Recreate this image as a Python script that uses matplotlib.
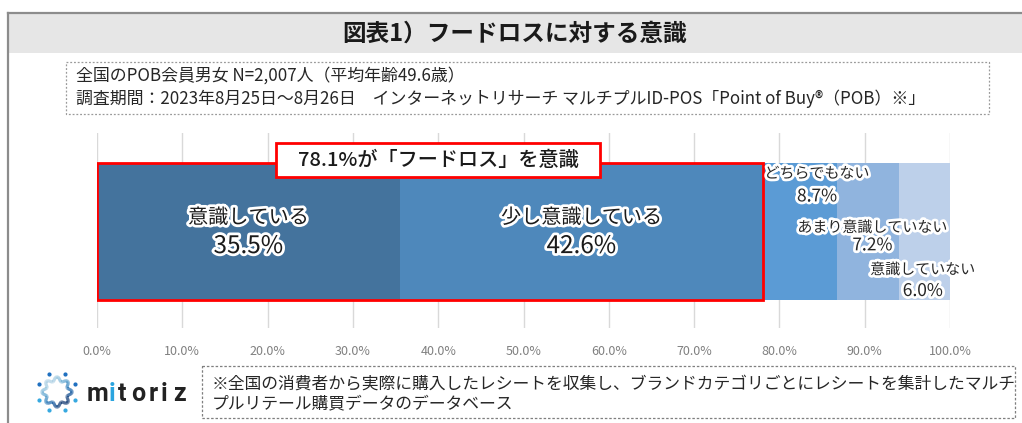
import numpy as np
import matplotlib
matplotlib.use("Agg")
import matplotlib.pyplot as plt
import matplotlib.patheffects as pe
from matplotlib.patches import Rectangle
from matplotlib.collections import LineCollection

plt.rcParams["font.family"] = ["Noto Sans CJK JP", "DejaVu Sans"]

# データ
categories = ["意識している", "少し意識している", "どちらでもない", "あまり意識していない", "意識していない"]
values = [35.5, 42.6, 8.7, 7.2, 6.0]
colors = ["#44739d", "#4e88bb", "#5b9bd5", "#90b4de", "#bdd0ea"]
ticks = [0, 10, 20, 30, 40, 50, 60, 70, 80, 90, 100]

title = "図表1）フードロスに対する意識"
note_lines = ["全国のPOB会員男女 N=2,007人（平均年齢49.6歳）",
              "調査期間：2023年8月25日～8月26日　インターネットリサーチ マルチプルID-POS「Point of Buy®（POB）※」"]
foot_lines = ["※全国の消費者から実際に購入したレシートを収集し、ブランドカテゴリごとにレシートを集計したマルチ",
              "プルリテール購買データのデータベース"]

W, H = 1022, 423
fig = plt.figure(figsize=(W / 100, H / 100), dpi=100)

# 背景・枠（ピクセル座標）
bg = fig.add_axes([0, 0, 1, 1])
bg.set_xlim(0, W)
bg.set_ylim(H, 0)
bg.axis("off")
bg.add_patch(Rectangle((8, 13), 1100, 40, facecolor="#e6e6e6", edgecolor="none"))
bg.plot([8, W], [13, 13], color="#8c8c8c", lw=1.6)
bg.plot([8, 8], [13, H], color="#8c8c8c", lw=1.6)
bg.text(515, 34, title, ha="center", va="center", fontsize=17, fontweight="bold", color="#1a1a1a")

bg.add_patch(Rectangle((66, 62), 923, 52, fill=False, edgecolor="#9a9a9a", lw=0.9, ls=(0, (1.5, 1.5))))
bg.text(76, 76, note_lines[0], ha="left", va="center", fontsize=12.2, color="#262626")
bg.text(76, 99, note_lines[1], ha="left", va="center", fontsize=12.2, color="#262626")

bg.add_patch(Rectangle((202, 366), 813, 52, fill=False, edgecolor="#7f7f7f", lw=0.9, ls=(0, (2, 1.5))))
bg.text(212, 384, foot_lines[0], ha="left", va="center", fontsize=12.1, color="#262626")
bg.text(212, 404, foot_lines[1], ha="left", va="center", fontsize=12.1, color="#262626")

# ロゴ
cx, cy = 57, 392
th = np.linspace(0, 2 * np.pi, 400)
r = 13 + 2.2 * np.cos(8 * th)
px, py = cx + r * np.cos(th), cy + r * np.sin(th)
pts = np.array([px, py]).T.reshape(-1, 1, 2)
segs = np.concatenate([pts[:-1], pts[1:]], axis=1)
lc = LineCollection(segs, cmap="Blues", norm=plt.Normalize(-2.0, 1), lw=2.2)
lc.set_array(np.sin(th + 0.6))
bg.add_collection(lc)
for a in np.arange(8) * np.pi / 4 + np.pi / 8:
    bg.plot(cx + 20 * np.cos(a), cy + 20 * np.sin(a), "o", ms=2.0,
            color="#1e6fc0" if np.sin(a) < 0 else "#35a8e0")
for ch, x, c in zip("mitoriz", [98, 112, 122, 138, 153, 164, 180],
                    ["#222222", "#2aa4df", "#222222", "#222222", "#222222", "#222222", "#222222"]):
    bg.text(x, 394, ch, ha="center", va="center", fontsize=18, fontweight="bold",
            family=["Roboto", "DejaVu Sans"], color=c)

# グラフ本体
ax = fig.add_axes([97 / W, 1 - 328 / H, 853 / W, 195 / H])
ax.set_xlim(0, 100)
ax.set_ylim(0, 1)
for t in ticks:
    ax.axvline(t, color="#d9d9d9", lw=1, zorder=0)

left = 0
lefts = []
for v, c in zip(values, colors):
    ax.barh(0.495, v, left=left, height=0.70, color=c, zorder=2)
    lefts.append(left)
    left += v

aware = values[0] + values[1]
ax.add_patch(Rectangle((0, 0.495 - 0.35), aware, 0.70, fill=False, edgecolor="#ff0000", lw=2, zorder=3))
ax.add_patch(Rectangle((21.0, 0.774), 38.0, 0.175, facecolor="white", edgecolor="#ff0000", lw=2,
                       zorder=4, clip_on=False))
ax.text(40.0, 0.862, f"{aware:.1f}%が「フードロス」を意識", ha="center", va="center",
        fontsize=14.5, fontweight="medium", color="#1a1a1a", zorder=5)

glow = [pe.withStroke(linewidth=4, foreground="white")]
for i in range(2):
    xc = lefts[i] + values[i] / 2
    ax.text(xc, 0.565, categories[i], ha="center", va="center", fontsize=14.5,
            color="#1a1a1a", path_effects=glow, zorder=5)
    ax.text(xc, 0.42, f"{values[i]:.1f}%", ha="center", va="center", fontsize=17.5,
            color="#1a1a1a", path_effects=glow, zorder=5)

small_x = [84.4, 90.9, 96.8]
small_y = [(0.79, 0.675), (0.513, 0.424), (0.297, 0.19)]
for i, x, (y1, y2) in zip(range(2, 5), small_x, small_y):
    ax.text(x, y1, categories[i], ha="center", va="center", fontsize=10.8,
            color="#262626", path_effects=glow, zorder=5)
    ax.text(x, y2, f"{values[i]:.1f}%", ha="center", va="center", fontsize=12.5,
            color="#262626", path_effects=glow, zorder=5)

ax.set_xticks(ticks)
ax.set_xticklabels([f"{t:.1f}%" for t in ticks], fontsize=9, color="#808080")
ax.set_yticks([])
ax.tick_params(axis="x", length=0, pad=12)
for s in ax.spines.values():
    s.set_visible(False)
ax.patch.set_alpha(0)

fig.savefig("out.png", dpi=100)
